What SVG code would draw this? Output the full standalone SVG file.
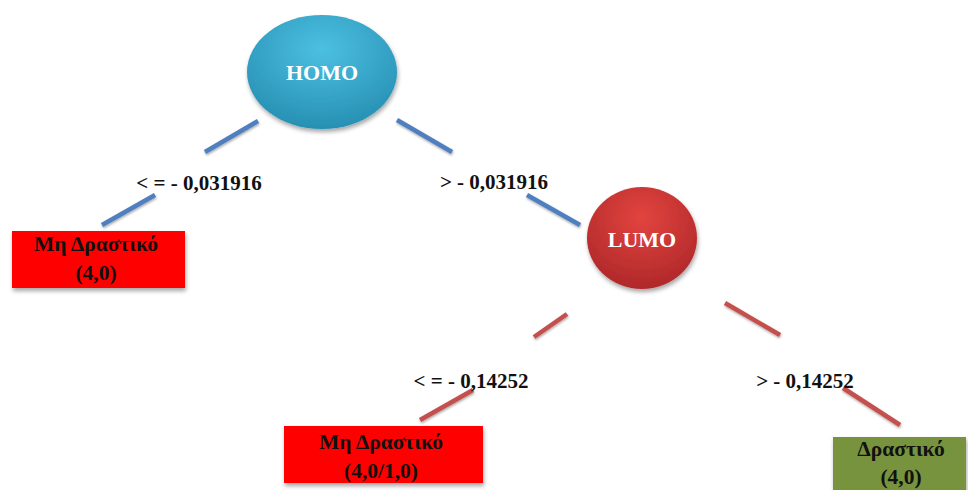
<svg xmlns="http://www.w3.org/2000/svg" width="968" height="490" viewBox="0 0 968 490">
  <defs>
    <radialGradient id="gHomo" cx="50%" cy="30%" r="70%">
      <stop offset="0" stop-color="#4cc0e2"/>
      <stop offset="1" stop-color="#2790b3"/>
    </radialGradient>
    <radialGradient id="gLumo" cx="50%" cy="30%" r="70%">
      <stop offset="0" stop-color="#e2443f"/>
      <stop offset="1" stop-color="#b0282a"/>
    </radialGradient>
    <filter id="shadow" x="-20%" y="-20%" width="140%" height="150%">
      <feDropShadow dx="1" dy="3" stdDeviation="2" flood-color="#000" flood-opacity="0.35"/>
    </filter>
    <filter id="lineShadow" x="-20%" y="-50%" width="140%" height="200%">
      <feDropShadow dx="0.5" dy="1.5" stdDeviation="0.8" flood-color="#000" flood-opacity="0.35"/>
    </filter>
  </defs>
  <style>
    text { font-family: "Liberation Serif", "Times New Roman", serif; font-weight: bold; text-anchor: middle; }
    .title { fill: #ffffff; font-size: 22px; }
    .cond { fill: #111111; font-size: 21px; }
    .leaf { fill: #111111; font-size: 21.5px; }
    .blue { stroke: #4f7fbf; stroke-width: 4.5; stroke-linecap: butt; filter: url(#lineShadow); }
    .red { stroke: #c4504d; stroke-width: 4.5; stroke-linecap: butt; filter: url(#lineShadow); }
  </style>
  <rect width="968" height="490" fill="#ffffff"/>

  <!-- connectors: each branch is drawn as two segments around its condition label -->
  <g id="connectors">
    <line class="blue" x1="258" y1="121" x2="205" y2="152"/>
    <line class="blue" x1="155" y1="195" x2="102" y2="225"/>
    <line class="blue" x1="397" y1="120" x2="452" y2="152"/>
    <line class="blue" x1="527" y1="195" x2="580" y2="225"/>
    <line class="red" x1="567" y1="314" x2="534" y2="337"/>
    <line class="red" x1="473" y1="390" x2="420" y2="420"/>
    <line class="red" x1="725" y1="303" x2="780" y2="335"/>
    <line class="red" x1="843" y1="388" x2="900" y2="425"/>
    <text class="cond" x="199" y="190">&lt; = - 0,031916</text>
    <text class="cond" x="494" y="189">&gt; - 0,031916</text>
    <text class="cond" x="471" y="388">&lt; = - 0,14252</text>
    <text class="cond" x="805" y="388">&gt; - 0,14252</text>
  </g>

  <g id="homo">
    <ellipse cx="322" cy="72" rx="75" ry="57" fill="url(#gHomo)" filter="url(#shadow)"/>
    <text class="title" x="322" y="80">HOMO</text>
  </g>

  <g id="lumo">
    <ellipse cx="642" cy="238" rx="55" ry="51" fill="url(#gLumo)" filter="url(#shadow)"/>
    <text class="title" x="642" y="247">LUMO</text>
  </g>

  <g id="leaf-left">
    <rect x="12" y="231" width="173" height="57" fill="#ff0000" filter="url(#shadow)"/>
    <text class="leaf" x="96" y="251">Μη Δραστικό</text>
    <text class="leaf" x="96" y="280">(4,0)</text>
  </g>

  <g id="leaf-middle">
    <rect x="284" y="426" width="199" height="57" fill="#ff0000" filter="url(#shadow)"/>
    <text class="leaf" x="381" y="449">Μη Δραστικό</text>
    <text class="leaf" x="381" y="478">(4,0/1,0)</text>
  </g>

  <g id="leaf-right">
    <rect x="833" y="437" width="133" height="60" fill="#77933c" filter="url(#shadow)"/>
    <text class="leaf" x="901" y="456">Δραστικό</text>
    <text class="leaf" x="901" y="484">(4,0)</text>
  </g>
</svg>
